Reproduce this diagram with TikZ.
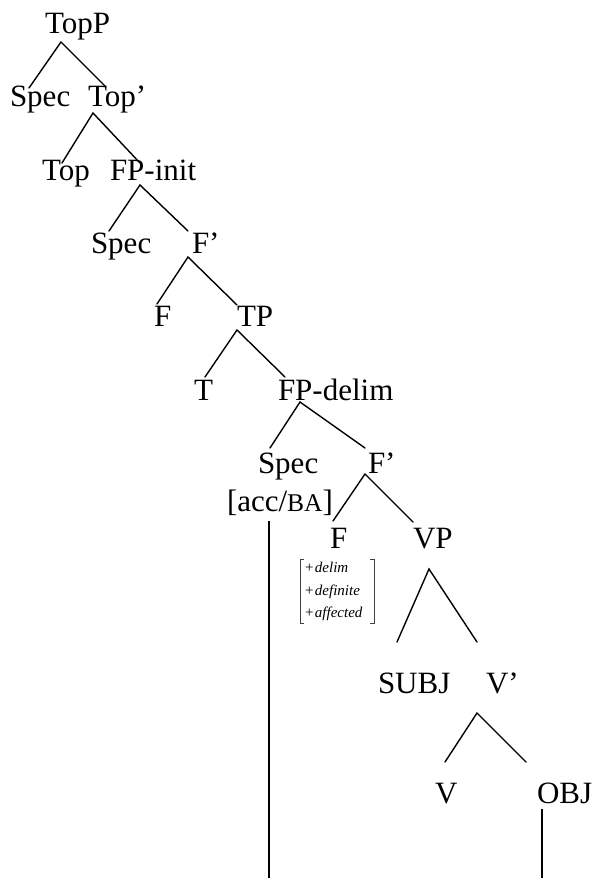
\documentclass[tikz,border=0pt]{standalone}
\usepackage{fontspec}
\setmainfont{Liberation Serif}
\begin{document}
\begin{tikzpicture}[x=1pt,y=-1pt,
  lab/.style={anchor=base west, inner sep=0pt, outer sep=0pt, font=\fontsize{31}{37}\selectfont},
  feat/.style={anchor=base west, inner sep=0pt, outer sep=0pt, font=\fontsize{15}{18}\selectfont},
  branch/.style={line width=1.4pt, line cap=round},
  trace/.style={line width=1.9pt},
  brk/.style={line width=0.6pt, black!75}]
\useasboundingbox (0,0) rectangle (595,878);

% labels
\node[lab] (TopP)   at (45,33)  {TopP};
\node[lab] (Spec1)  at (10,106) {Spec};
\node[lab] (Topbar) at (88,106) {Top’};
\node[lab] (Top)    at (42,180) {Top};
\node[lab] (FPinit) at (110,180) {FP-init};
\node[lab] (Spec2)  at (91,253) {Spec};
\node[lab] (Fbar1)  at (192,253) {F’};
\node[lab] (F1)     at (154,326) {F};
\node[lab] (TP)     at (237,326) {TP};
\node[lab] (T)      at (194,400) {T};
\node[lab] (FPdelim) at (278,400) {FP-delim};
\node[lab] (Spec3)  at (258,473) {Spec};
\node[lab] (Fbar2)  at (368,473) {F’};
\node[lab] (accBA)  at (227,511) {[acc/{\fontsize{25.5}{30}\selectfont BA}]};
\node[lab] (F2)     at (330,548) {F};
\node[lab] (VP)     at (413,548) {VP};
\node[lab] (SUBJ)   at (378,693) {SUBJ};
\node[lab] (Vbar)   at (486,693) {V’};
\node[lab] (V)      at (435,803) {V};
\node[lab] (OBJ)    at (537,803) {OBJ};

% feature matrix
\node[feat] (f1) at (305,572) {+\kern1.5pt\textit{delim}};
\node[feat] (f2) at (305,595) {+\kern1.5pt\textit{definite}};
\node[feat] (f3) at (305,617) {+\kern1.5pt\textit{affected}};
\draw[brk] (304,559) -- (300,559) -- (300,623) -- (304,623);
\draw[brk] (370,559) -- (374,559) -- (374,623) -- (370,623);

% branch points
\coordinate (topp-a) at (61,42);   \coordinate (topp-l) at (29,88);   \coordinate (topp-r) at (106,87);
\coordinate (topb-a) at (93,113);  \coordinate (topb-l) at (62,163);  \coordinate (topb-r) at (140,163);
\coordinate (fpi-a) at (140,185);  \coordinate (fpi-l) at (109,231);  \coordinate (fpi-r) at (188,231);
\coordinate (fb1-a) at (188,257);  \coordinate (fb1-l) at (157,304);  \coordinate (fb1-r) at (237,305);
\coordinate (tp-a) at (237,330);   \coordinate (tp-l) at (205,377);   \coordinate (tp-r) at (285,377);
\coordinate (fpd-a) at (300,402);  \coordinate (fpd-l) at (270,448);  \coordinate (fpd-r) at (365,448);
\coordinate (fb2-a) at (365,474);  \coordinate (fb2-l) at (333,521);  \coordinate (fb2-r) at (413,522);
\coordinate (vp-a) at (429,569);   \coordinate (vp-l) at (397,642);   \coordinate (vp-r) at (477,642);
\coordinate (vb-a) at (477,713);   \coordinate (vb-l) at (445,762);   \coordinate (vb-r) at (526,762);
\coordinate (tr1-t) at (269,521);  \coordinate (tr1-b) at (269,878);
\coordinate (tr2-t) at (542,809);  \coordinate (tr2-b) at (542,878);

\draw[branch] (topp-l) -- (topp-a) -- (topp-r);
\draw[branch] (topb-l) -- (topb-a) -- (topb-r);
\draw[branch] (fpi-l) -- (fpi-a) -- (fpi-r);
\draw[branch] (fb1-l) -- (fb1-a) -- (fb1-r);
\draw[branch] (tp-l) -- (tp-a) -- (tp-r);
\draw[branch] (fpd-l) -- (fpd-a) -- (fpd-r);
\draw[branch] (fb2-l) -- (fb2-a) -- (fb2-r);
\draw[branch] (vp-l) -- (vp-a) -- (vp-r);
\draw[branch] (vb-l) -- (vb-a) -- (vb-r);
\draw[trace] (tr1-t) -- (tr1-b);
\draw[trace] (tr2-t) -- (tr2-b);
\end{tikzpicture}
\end{document}
